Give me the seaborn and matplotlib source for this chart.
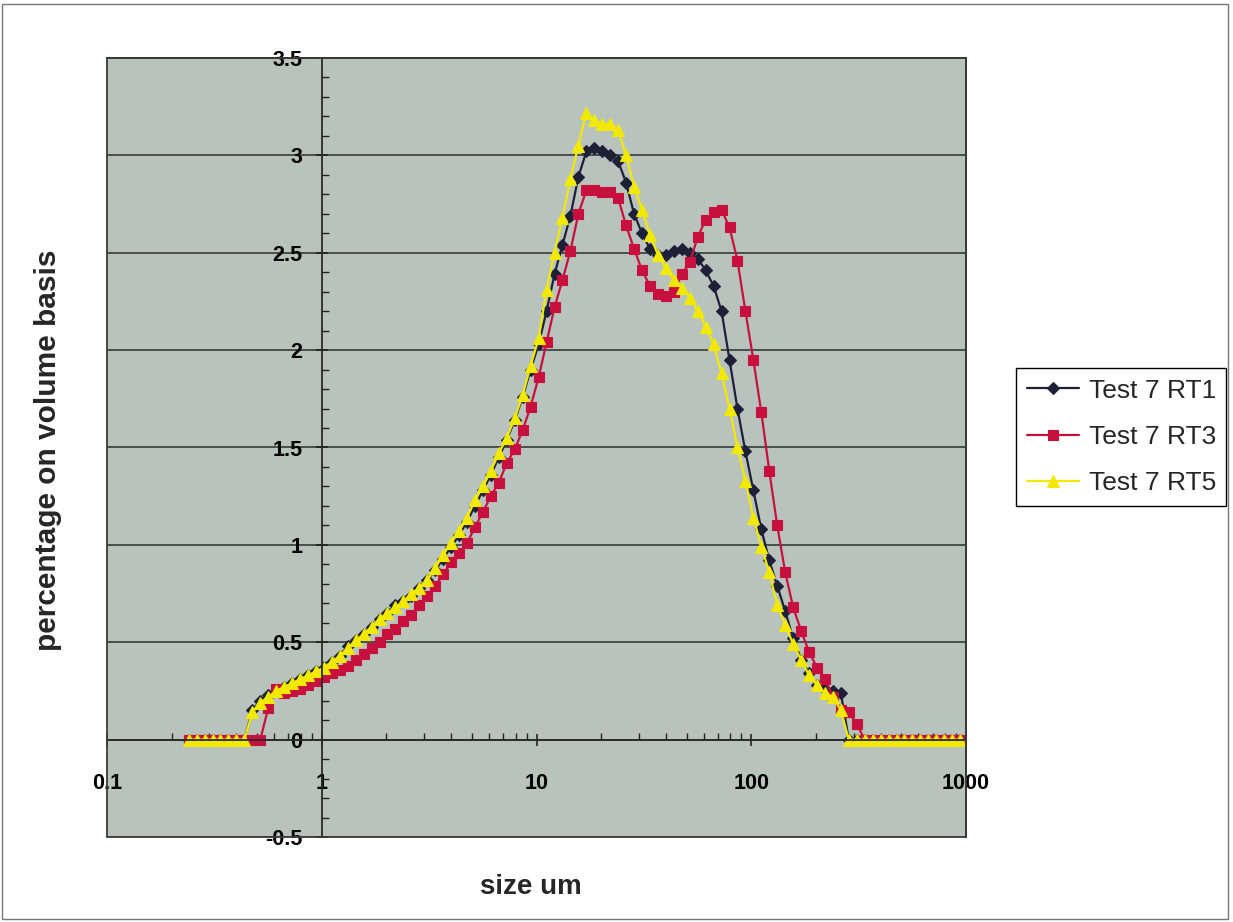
import matplotlib
matplotlib.use("Agg")
import matplotlib.pyplot as plt
import seaborn as sns
from matplotlib.ticker import FixedLocator, FixedFormatter, LogLocator, MultipleLocator, NullFormatter
from matplotlib.patches import Rectangle

# ---------------- data ----------------
size_um = [
    0.2400, 0.2614, 0.2846, 0.3100, 0.3376, 0.3676, 0.4004, 0.4360, 0.4748, 0.5171,
    0.5631, 0.6132, 0.6678, 0.7273, 0.7920, 0.8625, 0.9393, 1.0229, 1.1140, 1.2132,
    1.3212, 1.4388, 1.5668, 1.7063, 1.8582, 2.0237, 2.2038, 2.4000, 2.6137, 2.8464,
    3.0998, 3.3757, 3.6762, 4.0035, 4.3599, 4.7480, 5.1707, 5.6310, 6.1323, 6.6782,
    7.2727, 7.9201, 8.6252, 9.3930, 10.229, 11.140, 12.132, 13.212, 14.388, 15.668,
    17.063, 18.582, 20.237, 22.038, 24.000, 26.137, 28.464, 30.998, 33.757, 36.762,
    40.035, 43.599, 47.480, 51.707, 56.310, 61.323, 66.782, 72.727, 79.201, 86.252,
    93.930, 102.29, 111.40, 121.32, 132.12, 143.88, 156.68, 170.63, 185.82, 202.37,
    220.38, 240.00, 261.37, 284.64, 309.98, 337.57, 367.62, 400.35, 435.99, 474.80,
    517.07, 563.10, 613.23, 667.82, 727.27, 792.01, 862.52, 939.30,
]

rt1 = [
    0, 0, 0, 0, 0, 0, 0, 0,
    0.15, 0.20, 0.23, 0.25, 0.27, 0.29, 0.31, 0.33, 0.35, 0.37,
    0.40, 0.43, 0.48, 0.51, 0.54, 0.58, 0.62, 0.65, 0.69, 0.71,
    0.74, 0.78, 0.82, 0.87, 0.93, 0.99, 1.05, 1.12, 1.20, 1.28,
    1.36, 1.45, 1.54, 1.64, 1.76, 1.90, 2.03, 2.20, 2.39, 2.54,
    2.69, 2.89, 3.02, 3.04, 3.02, 3.00, 2.97, 2.86, 2.70, 2.60,
    2.52, 2.49, 2.49, 2.51, 2.52, 2.50, 2.47, 2.41, 2.33, 2.20,
    1.95, 1.70, 1.48, 1.28, 1.08, 0.92, 0.79, 0.66, 0.52, 0.41,
    0.34, 0.28, 0.26, 0.25, 0.24,
    0, 0, 0, 0, 0, 0, 0, 0, 0, 0, 0, 0, 0, 0, 0,
]

rt3 = [
    0, 0, 0, 0, 0, 0, 0, 0, 0, 0,
    0.16, 0.26, 0.24, 0.25, 0.26, 0.28, 0.30, 0.32, 0.34, 0.36,
    0.38, 0.41, 0.44, 0.47, 0.50, 0.54, 0.57, 0.61, 0.64, 0.69,
    0.74, 0.79, 0.85, 0.91, 0.96, 1.01, 1.09, 1.17, 1.25, 1.32,
    1.42, 1.49, 1.59, 1.71, 1.86, 2.04, 2.22, 2.36, 2.51, 2.70,
    2.82, 2.82, 2.81, 2.81, 2.78, 2.64, 2.52, 2.41, 2.33, 2.29,
    2.28, 2.30, 2.39, 2.45, 2.58, 2.67, 2.71, 2.72, 2.63, 2.46,
    2.20, 1.95, 1.68, 1.38, 1.10, 0.86, 0.68, 0.56, 0.45, 0.37,
    0.31, 0.22, 0.15, 0.14, 0.08,
    0, 0, 0, 0, 0, 0, 0, 0, 0, 0, 0, 0, 0,
]

rt5 = [
    0, 0, 0, 0, 0, 0, 0, 0,
    0.14, 0.19, 0.22, 0.25, 0.27, 0.29, 0.31, 0.33, 0.35, 0.37,
    0.40, 0.43, 0.47, 0.51, 0.54, 0.58, 0.62, 0.65, 0.68, 0.71,
    0.75, 0.78, 0.82, 0.88, 0.95, 1.01, 1.07, 1.14, 1.23, 1.30,
    1.38, 1.47, 1.55, 1.65, 1.77, 1.92, 2.06, 2.31, 2.50, 2.68,
    2.88, 3.05, 3.22, 3.18, 3.16, 3.16, 3.13, 3.00, 2.84, 2.72,
    2.59, 2.49, 2.42, 2.36, 2.32, 2.27, 2.20, 2.12, 2.03, 1.88,
    1.70, 1.50, 1.33, 1.14, 0.99, 0.86, 0.69, 0.59, 0.49, 0.41,
    0.33, 0.28, 0.24, 0.22, 0.15,
    0, 0, 0, 0, 0, 0, 0, 0, 0, 0, 0, 0, 0, 0, 0,
]

series_names = ["Test 7 RT1", "Test 7 RT3", "Test 7 RT5"]
x_ticks = [0.1, 1, 10, 100, 1000]
x_tick_labels = ["0.1", "1", "10", "100", "1000"]
y_ticks = [-0.5, 0, 0.5, 1, 1.5, 2, 2.5, 3, 3.5]
y_tick_labels = ["-0.5", "0", "0.5", "1", "1.5", "2", "2.5", "3", "3.5"]
x_title = "size um"
y_title = "percentage on volume basis"

# ---------------- styling ----------------
sns.set_style("white")
plt.rcParams["font.family"] = ["Liberation Sans", "DejaVu Sans"]
plt.rcParams["font.weight"] = "bold"
plt.rcParams["axes.unicode_minus"] = False

W, H = 1233, 922
fig = plt.figure(figsize=(W / 100, H / 100), dpi=100)
fig.patch.set_facecolor("white")
ax = fig.add_axes([107 / W, 1 - 837 / H, 859 / W, 779 / H])
ax.set_facecolor("#b9c3be")

styles = [
    dict(color="#1c2138", marker="D", markersize=6.5),
    dict(color="#c8103e", marker="s", markersize=6.5),
    dict(color="#f2e900", marker="^", markersize=8.5),
]
for name, vals, st in zip(series_names, [rt1, rt3, rt5], styles):
    sns.lineplot(x=size_um, y=vals, ax=ax, estimator=None, sort=False,
                 color=st["color"], marker=st["marker"], markersize=st["markersize"],
                 markeredgecolor=st["color"], markeredgewidth=0.8,
                 linewidth=1.6, label=name)

ax.set_xscale("log")
ax.set_xlim(0.1, 1000)
ax.set_ylim(-0.5, 3.5)

ax.xaxis.set_major_locator(FixedLocator(x_ticks))
ax.xaxis.set_major_formatter(FixedFormatter(x_tick_labels))
ax.xaxis.set_minor_locator(LogLocator(base=10, subs=range(2, 10)))
ax.xaxis.set_minor_formatter(NullFormatter())
ax.yaxis.set_major_locator(FixedLocator(y_ticks))
ax.yaxis.set_major_formatter(FixedFormatter(y_tick_labels))
ax.yaxis.set_minor_locator(MultipleLocator(0.1))

ax.tick_params(axis="x", which="major", direction="inout", length=8, width=1.2,
               color="#222222", pad=20, labelsize=15.5, labelcolor="black", bottom=True)
ax.tick_params(axis="x", which="minor", direction="in", length=5, width=1.0,
               color="#222222", bottom=True)
ax.tick_params(axis="y", which="major", direction="inout", length=8, width=1.2,
               color="#222222", pad=10, labelsize=15.5, labelcolor="black", left=True)
ax.tick_params(axis="y", which="minor", direction="in", length=5, width=1.0,
               color="#222222", left=True)

ax.grid(axis="y", which="major", color="#3f4542", linewidth=1.3)
ax.grid(axis="x", visible=False)

for side in ["left", "bottom", "top", "right"]:
    ax.spines[side].set_visible(True)
    ax.spines[side].set_color("#2a2a2a")
    ax.spines[side].set_linewidth(1.3)
ax.spines["left"].set_position(("data", 1))
ax.spines["bottom"].set_position(("data", 0))
ax.add_patch(Rectangle((0, 0), 1, 1, transform=ax.transAxes, fill=False,
                       edgecolor="#3a3a3a", linewidth=1.3, zorder=2.6, clip_on=False))

# axis titles
fig.text(48 / W, 1 - 450 / H, y_title, rotation=90, ha="center", va="center",
         fontsize=21.5, fontweight="bold")
fig.text(531 / W, 1 - 887 / H, x_title, ha="center", va="center",
         fontsize=20, fontweight="bold")

# legend
handles, labels = ax.get_legend_handles_labels()
if ax.get_legend() is not None:
    ax.get_legend().remove()
leg = fig.legend(handles, labels, loc="upper left",
                 bbox_to_anchor=(1016 / W, 1 - 368 / H), bbox_transform=fig.transFigure,
                 frameon=True, fancybox=False, shadow=False, edgecolor="black",
                 facecolor="white", framealpha=1,
                 prop={"family": ["Liberation Sans", "DejaVu Sans"], "size": 19, "weight": "normal"},
                 handlelength=2.0, handletextpad=0.35, labelspacing=0.85,
                 borderpad=0.4, borderaxespad=0)
leg.get_frame().set_linewidth(1.0)

# outer chart border
fig.patches.append(Rectangle((2 / W, 3 / H), (1228 - 2) / W, (918 - 3) / H,
                             transform=fig.transFigure, fill=False,
                             edgecolor="#777777", linewidth=1.0))

fig.savefig("out.png", dpi=100)
